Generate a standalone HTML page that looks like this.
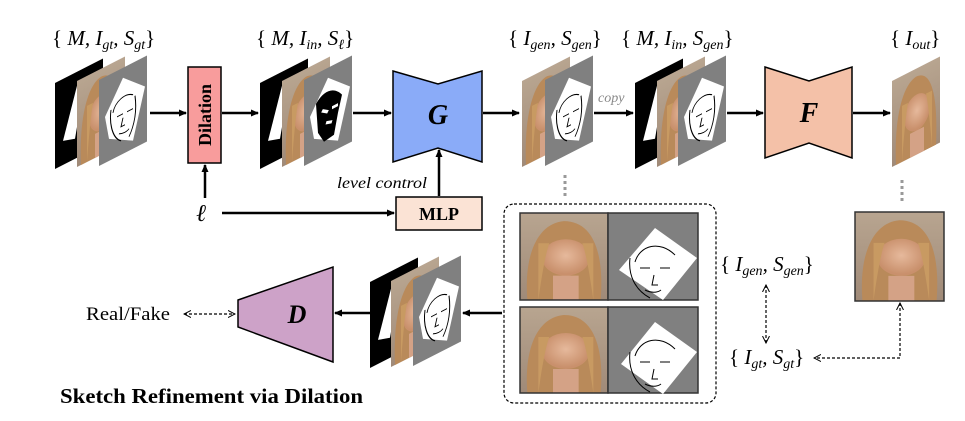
<!DOCTYPE html>
<html><head><meta charset="utf-8"><style>
body{margin:0;background:#fff}
svg{display:block}
text{font-family:"Liberation Serif",serif}
</style></head><body>
<svg width="965" height="421" viewBox="0 0 965 421" xmlns="http://www.w3.org/2000/svg">
<defs>
<marker id="ah" markerWidth="8" markerHeight="8" refX="7" refY="4" orient="auto" markerUnits="userSpaceOnUse"><path d="M0,0.5 L8,4 L0,7.5 Z" fill="#000"/></marker>
<marker id="oh" markerWidth="8" markerHeight="8" refX="7" refY="4" orient="auto" markerUnits="userSpaceOnUse"><path d="M0,0.5 L7,4 L0,7.5" fill="none" stroke="#000" stroke-width="1"/></marker>
<marker id="ohs" markerWidth="8" markerHeight="8" refX="1" refY="4" orient="auto" markerUnits="userSpaceOnUse"><path d="M8,0.5 L1,4 L8,7.5" fill="none" stroke="#000" stroke-width="1"/></marker>
<linearGradient id="bg" x1="0" y1="0" x2="0" y2="1"><stop offset="0" stop-color="#b8a590"/><stop offset="1" stop-color="#a08a78"/></linearGradient>
<radialGradient id="skin" cx="0.5" cy="0.45" r="0.5"><stop offset="0" stop-color="#e6b99c"/><stop offset="1" stop-color="#c9906c"/></radialGradient>
<g id="face" stroke="none">
 <rect width="48" height="86" fill="url(#bg)"/>
 <path d="M4,86 C2,40 10,10 24,8 C40,8 46,40 44,86 Z" fill="#b98a5a"/>
 <ellipse cx="25" cy="44" rx="13" ry="18" fill="url(#skin)"/>
 <path d="M10,86 C12,60 14,40 16,30 L10,30 Z M40,86 C38,60 36,40 34,30 L40,30Z" fill="#c89a62"/>
 <rect x="18" y="62" width="14" height="24" fill="#d4a286"/>
</g>
<g id="sketch">
 <rect width="48" height="86" fill="#808080"/>
 <polygon points="24,10 46,30 34,78 10,64 6,40" fill="#fff"/>
 <path d="M14,40 C16,30 26,26 34,32 M18,46 l6,0 M28,46 l6,0 M24,50 l-2,8 l4,0 M20,64 c4,2 8,2 10,0 M12,36 C10,50 14,66 22,72 M36,34 C38,50 36,62 30,72" fill="none" stroke="#000" stroke-width="1"/>
</g>
<g id="sketchd">
 <rect width="48" height="86" fill="#808080"/>
 <polygon points="24,10 46,30 34,78 10,64 6,40" fill="#fff"/>
 <path d="M12,30 C20,20 30,22 38,34 L34,50 L30,70 L20,72 L14,60 Z" fill="#000"/>
 <path d="M18,40 l6,4 M28,42 l6,0 M22,54 l6,2" stroke="#fff" stroke-width="3"/>
</g>
<g id="mask">
 <rect width="48" height="86" fill="#000"/>
 <polygon points="22,14 30,12 20,66 8,62" fill="#fff"/>
</g>
</defs>

<g font-size="21" font-style="italic">
<text x="52" y="45"><tspan font-style="normal">{</tspan> M, I<tspan font-size="14" dy="4">gt</tspan><tspan dy="-4">, S</tspan><tspan font-size="14" dy="4">gt</tspan><tspan dy="-4" font-style="normal">}</tspan></text>
<text x="256" y="45"><tspan font-style="normal">{</tspan> M, I<tspan font-size="14" dy="4">in</tspan><tspan dy="-4">, S</tspan><tspan font-size="14" dy="4">ℓ</tspan><tspan dy="-4" font-style="normal">}</tspan></text>
<text x="508" y="45"><tspan font-style="normal">{</tspan> I<tspan font-size="14" dy="4">gen</tspan><tspan dy="-4">, S</tspan><tspan font-size="14" dy="4">gen</tspan><tspan dy="-4" font-style="normal">}</tspan></text>
<text x="621" y="45"><tspan font-style="normal">{</tspan> M, I<tspan font-size="14" dy="4">in</tspan><tspan dy="-4">, S</tspan><tspan font-size="14" dy="4">gen</tspan><tspan dy="-4" font-style="normal">}</tspan></text>
<text x="890" y="45"><tspan font-style="normal">{</tspan> I<tspan font-size="14" dy="4">out</tspan><tspan dy="-4" font-style="normal">}</tspan></text>
</g>

<use href="#mask" transform="translate(55,83) skewY(-27)"/>
<use href="#face" transform="translate(77,81) skewY(-27)"/>
<use href="#sketch" transform="translate(99,80) skewY(-27)"/>
<use href="#mask" transform="translate(260,83) skewY(-27)"/>
<use href="#face" transform="translate(282,81) skewY(-27)"/>
<use href="#sketchd" transform="translate(304,80) skewY(-27)"/>
<use href="#face" transform="translate(522,81) skewY(-27)"/>
<use href="#sketch" transform="translate(545,80) skewY(-27)"/>
<use href="#mask" transform="translate(635,83) skewY(-27)"/>
<use href="#face" transform="translate(657,81) skewY(-27)"/>
<use href="#sketch" transform="translate(678,80) skewY(-27)"/>
<use href="#face" transform="translate(892,81) skewY(-27)"/>
<use href="#mask" transform="translate(370,282) skewY(-27)"/>
<use href="#face" transform="translate(391,281) skewY(-27)"/>
<use href="#sketch" transform="translate(413,280) skewY(-27)"/>

<rect x="188" y="67" width="33" height="96" fill="#f89c9c" stroke="#000" stroke-width="1.5"/>
<text transform="translate(211,115) rotate(-90)" text-anchor="middle" font-size="18" font-weight="bold">Dilation</text>

<polygon points="393,71 438,84 482,71 482,162 438,148 393,162" fill="#8aabf8" stroke="#000" stroke-width="1.5"/>
<text x="438" y="124" text-anchor="middle" font-size="28" font-weight="bold" font-style="italic">G</text>
<polygon points="765,67 809,81 852,67 852,158 809,143 765,158" fill="#f4c1a8" stroke="#000" stroke-width="1.5"/>
<text x="809" y="122" text-anchor="middle" font-size="28" font-weight="bold" font-style="italic">F</text>
<rect x="396" y="197" width="86" height="33" fill="#fbe3d5" stroke="#000" stroke-width="1.5"/>
<text x="439" y="220" text-anchor="middle" font-size="18" font-weight="bold">MLP</text>
<text x="337" y="188" font-size="16" font-style="italic" textLength="90" lengthAdjust="spacingAndGlyphs">level control</text>
<text x="196" y="221" font-size="24" font-style="italic">ℓ</text>

<g stroke="#000" stroke-width="2.5" marker-end="url(#ah)">
<line x1="150" y1="113" x2="186" y2="113"/>
<line x1="222" y1="113" x2="258" y2="113"/>
<line x1="353" y1="113" x2="391" y2="113"/>
<line x1="483" y1="113" x2="519" y2="113"/>
<line x1="594" y1="113" x2="633" y2="113"/>
<line x1="727" y1="113" x2="763" y2="113"/>
<line x1="853" y1="113" x2="890" y2="113"/>
<line x1="205" y1="198" x2="205" y2="165"/>
<line x1="222" y1="213" x2="394" y2="213"/>
<line x1="439" y1="196" x2="439" y2="150"/>
<line x1="502" y1="313" x2="463" y2="313"/>
<line x1="370" y1="313" x2="335" y2="313"/>
</g>
<text x="598" y="102" font-size="14" font-style="italic" fill="#888">copy</text>

<line x1="565" y1="175" x2="565" y2="196" stroke="#999" stroke-width="3" stroke-dasharray="3,3"/>
<line x1="902" y1="180" x2="902" y2="202" stroke="#999" stroke-width="3" stroke-dasharray="3,3"/>

<rect x="504" y="204" width="212" height="199" rx="10" fill="none" stroke="#000" stroke-width="1.2" stroke-dasharray="3,2"/>
<use href="#face" transform="translate(520,213) scale(1.833,1.01)"/>
<use href="#face" transform="translate(520,307) scale(1.833,1.0)"/>
<use href="#face" transform="translate(855,212) scale(1.854,1.03)"/>
<g stroke="#333" stroke-width="1.5">
<rect x="520" y="213" width="88" height="87" fill="none"/>
<rect x="608" y="213" width="90" height="87" fill="#808080"/>
<rect x="520" y="307" width="88" height="86" fill="none"/>
<rect x="608" y="307" width="90" height="86" fill="#808080"/>
<rect x="855" y="212" width="89" height="89" fill="none"/>
</g>
<polygon points="655,228 697,258 663,300 619,270" fill="#fff"/>
<polygon points="655,322 697,352 663,394 621,364" fill="#fff"/>
<g fill="none" stroke="#000" stroke-width="1">
<path d="M635,262 C640,245 660,240 675,255 M640,268 l10,0 M660,268 l10,0 M654,275 l-2,10 l6,0 M645,290 c6,3 12,3 16,0 M630,258 C628,275 635,290 650,298"/>
<path d="M635,356 C640,339 660,334 675,349 M640,362 l10,0 M660,362 l10,0 M654,369 l-2,10 l6,0 M645,384 c6,3 12,3 16,0 M630,352 C628,369 635,384 650,392"/>
</g>

<g font-size="21" font-style="italic">
<text x="720" y="271"><tspan font-style="normal">{</tspan> I<tspan font-size="14" dy="4">gen</tspan><tspan dy="-4">, S</tspan><tspan font-size="14" dy="4">gen</tspan><tspan dy="-4" font-style="normal">}</tspan></text>
<text x="729" y="364"><tspan font-style="normal">{</tspan> I<tspan font-size="14" dy="4">gt</tspan><tspan dy="-4">, S</tspan><tspan font-size="14" dy="4">gt</tspan><tspan dy="-4" font-style="normal">}</tspan></text>
</g>
<g stroke="#000" stroke-width="1.2" stroke-dasharray="3,2" fill="none">
<line x1="766" y1="285" x2="766" y2="343" marker-start="url(#ohs)" marker-end="url(#oh)"/>
<polyline points="900,303 900,358 814,358" marker-start="url(#ohs)" marker-end="url(#oh)"/>
<line x1="184" y1="314" x2="235" y2="314" marker-start="url(#ohs)" marker-end="url(#oh)"/>
</g>

<polygon points="238,300 333,267 333,362 238,327" fill="#cda2c8" stroke="#000" stroke-width="1.5"/>
<text x="297" y="323" text-anchor="middle" font-size="26" font-weight="bold" font-style="italic">D</text>
<text x="86" y="320" font-size="19" textLength="84" lengthAdjust="spacingAndGlyphs">Real/Fake</text>
<text x="60" y="403" font-size="21" font-weight="bold" textLength="303" lengthAdjust="spacingAndGlyphs">Sketch Refinement via Dilation</text>
</svg>
</body></html>
